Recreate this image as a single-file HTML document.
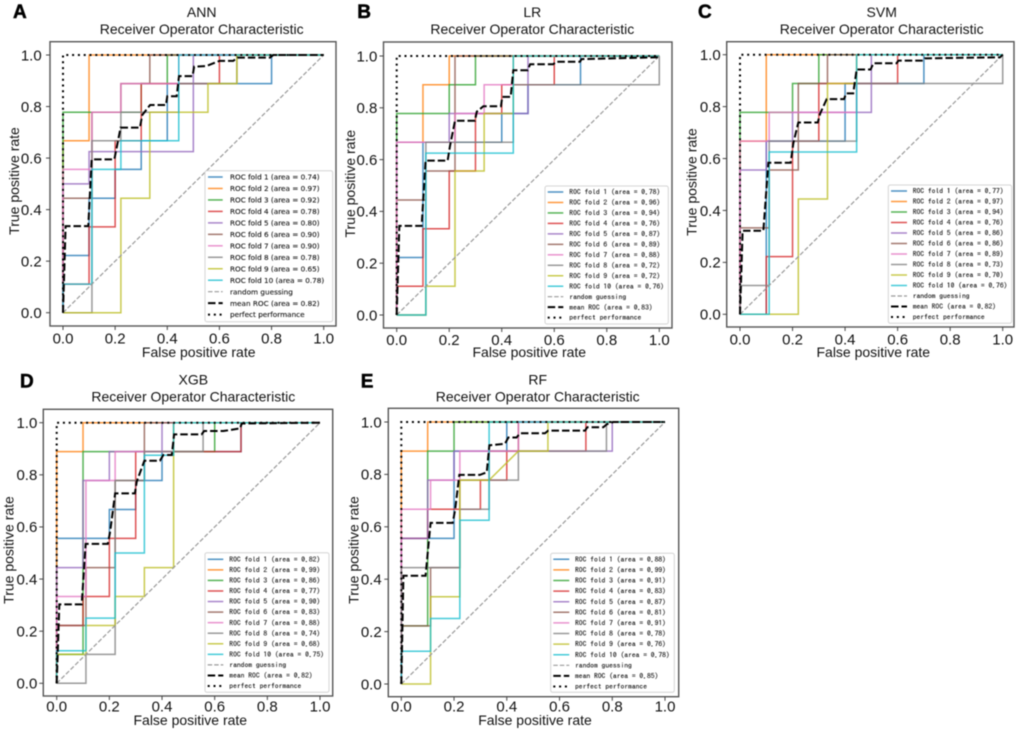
<!DOCTYPE html>
<html lang="en">
<head>
<meta charset="utf-8">
<title>ROC curves for five classifiers</title>
<style>
html,body{margin:0;padding:0;background:#fff;width:1020px;height:732px;overflow:hidden}
svg{display:block;filter:blur(0.4px)}
text{fill:#111}
.sans{font-family:"Liberation Sans",Arial,sans-serif}
.panel-letter{font-family:"Liberation Sans",Arial,sans-serif;font-weight:bold;font-size:19px;fill:#000;stroke:#000;stroke-width:.5px}
</style>
</head>
<body>
<svg id="figure" xmlns="http://www.w3.org/2000/svg" width="1020" height="732" viewBox="0 0 1020 732"></svg>
<script>
const tickValues = [0, 0.2, 0.4, 0.6, 0.8, 1.0];
const tickLabels = ["0.0", "0.2", "0.4", "0.6", "0.8", "1.0"];
const foldColors = ["#1f77b4", "#ff7f0e", "#2ca02c", "#d62728", "#9467bd", "#8c564b", "#e377c2", "#7f7f7f", "#bcbd22", "#17becf"];

/* ANN */
const annAuc = [0.74, 0.97, 0.92, 0.78, 0.80, 0.90, 0.90, 0.78, 0.65, 0.78];
const annMeanAuc = 0.82;
const annFpr = [
  [0, 0, .1, .1, .2, .2, .3, .3, .4, .4, .8, .8, 1],
  [0, 0, .1, .1, 1],
  [0, 0, .3, .3, .4, .4, 1],
  [0, 0, .1, .1, .2, .2, .3, .3, .6, .6, 1],
  [0, 0, .1, .1, .5, .5, 1],
  [0, 0, .111, .111, .222, .222, .333, .333, 1],
  [0, 0, .111, .111, .222, .222, .444, .444, 1],
  [0, .111, .111, .222, .222, .444, .444, .667, .667, 1],
  [0, .222, .222, .333, .333, .556, .556, .667, .667, 1],
  [0, 0, .111, .111, .222, .222, .444, .444, 1]
];
const annTpr = [
  [0, .222, .222, .444, .444, .556, .556, .667, .667, .889, .889, 1, 1],
  [0, .667, .667, 1, 1],
  [0, .778, .778, .889, .889, 1, 1],
  [0, .111, .111, .333, .333, .667, .667, .889, .889, 1, 1],
  [0, .5, .5, .625, .625, 1, 1],
  [0, .444, .444, .778, .778, .889, .889, 1, 1],
  [0, .556, .556, .778, .778, .889, .889, 1, 1],
  [0, 0, .667, .667, .778, .778, .889, .889, 1, 1],
  [0, 0, .444, .444, .778, .778, .889, .889, 1, 1],
  [0, .111, .111, .556, .556, .667, .667, 1, 1]
];
const annMeanFpr = [0, .01, .097, .11, .197, .221, .295, .304, .334, .395, .40, .436, .445, .497, .503, .55, .6, .653, .669, .794, .807, 1];
const annMeanTpr = [0, .336, .336, .595, .595, .718, .718, .767, .806, .806, .84, .84, .918, .918, .955, .957, .977, .977, .99, .99, 1, 1];

/* LR */
const lrAuc = [0.78, 0.96, 0.94, 0.76, 0.87, 0.89, 0.88, 0.72, 0.72, 0.76];
const lrMeanAuc = 0.83;
const lrFpr = [
  [0, 0, .1, .1, .4, .4, .5, .5, .7, .7, 1],
  [0, 0, .1, .1, .2, .2, 1],
  [0, 0, .2, .2, .3, .3, 1],
  [0, 0, .1, .1, .2, .2, .3, .3, .4, .4, .6, .6, 1],
  [0, 0, .2, .2, .5, .5, 1],
  [0, 0, .111, .111, .222, .222, 1],
  [0, 0, .222, .222, .333, .333, .444, .444, 1],
  [0, .111, .111, .444, .444, 1, 1],
  [0, .111, .111, .222, .222, .333, .333, .444, .444, 1],
  [0, .111, .111, .444, .444, 1]
];
const lrTpr = [
  [0, .222, .222, .667, .667, .778, .778, .889, .889, 1, 1],
  [0, .667, .667, .889, .889, 1, 1],
  [0, .778, .778, .889, .889, 1, 1],
  [0, .111, .111, .333, .333, .556, .556, .778, .778, .889, .889, 1, 1],
  [0, .667, .667, .778, .778, 1, 1],
  [0, .444, .444, .556, .556, 1, 1],
  [0, .667, .667, .778, .778, .889, .889, 1, 1],
  [0, 0, .667, .667, .889, .889, 1],
  [0, 0, .111, .111, .556, .556, .778, .778, 1, 1],
  [0, 0, .625, .625, 1, 1]
];
const lrMeanFpr = [0, .01, .095, .11, .194, .203, .222, .298, .305, .33, .397, .402, .434, .444, .499, .508, .596, .607, .698, .704, .996, 1];
const lrMeanTpr = [0, .344, .344, .596, .596, .653, .75, .75, .785, .806, .806, .842, .842, .945, .945, .968, .968, .978, .978, .988, .995, 1];

/* SVM */
const svmAuc = [0.77, 0.97, 0.94, 0.76, 0.86, 0.86, 0.89, 0.73, 0.70, 0.76];
const svmMeanAuc = 0.82;
const svmFpr = [
  [0, .1, .1, .4, .4, .7, .7, 1],
  [0, 0, .1, .1, 1],
  [0, 0, .2, .2, .3, .3, 1],
  [0, .1, .1, .2, .2, .3, .3, .6, .6, 1],
  [0, 0, .1, .1, .2, .2, .5, .5, 1],
  [0, 0, .111, .111, .222, .222, .333, .333, 1],
  [0, 0, .111, .111, .444, .444, 1],
  [0, 0, .111, .111, .444, .444, 1, 1],
  [0, .222, .222, .333, .333, .444, .444, 1],
  [0, .111, .111, .444, .444, 1]
];
const svmTpr = [
  [0, 0, .667, .667, .889, .889, 1, 1],
  [0, .667, .667, 1, 1],
  [0, .778, .778, .889, .889, 1, 1],
  [0, 0, .222, .222, .667, .667, .889, .889, 1, 1],
  [0, .556, .556, .667, .667, .778, .778, 1, 1],
  [0, .333, .333, .556, .556, .889, .889, 1, 1],
  [0, .667, .667, .778, .778, 1, 1],
  [0, .111, .111, .667, .667, .889, .889, 1],
  [0, 0, .444, .444, .889, .889, 1, 1],
  [0, 0, .625, .625, 1, 1]
];
const svmMeanFpr = [0, .01, .089, .108, .193, .203, .222, .296, .305, .33, .396, .404, .431, .444, .497, .508, .596, .603, .698, .704, .99, 1];
const svmMeanTpr = [0, .322, .322, .584, .584, .659, .739, .739, .773, .829, .829, .851, .851, .943, .943, .967, .967, .977, .977, .986, .99, 1];

/* XGB */
const xgbAuc = [0.82, 0.99, 0.86, 0.77, 0.90, 0.83, 0.88, 0.74, 0.68, 0.75];
const xgbMeanAuc = 0.82;
const xgbFpr = [
  [0, 0, .2, .2, .3, .3, .4, .4, .7, .7, 1],
  [0, 0, .1, .1, 1],
  [0, 0, .1, .1, .6, .6, 1],
  [0, 0, .1, .1, .2, .2, .3, .3, .7, .7, 1],
  [0, 0, .1, .1, .2, .2, .4, .4, 1],
  [0, 0, .111, .111, .222, .222, .333, .333, 1],
  [0, 0, .111, .111, .222, .222, .444, .444, 1],
  [0, .111, .111, .222, .222, .333, .333, .556, .556, 1],
  [0, 0, .111, .111, .222, .222, .333, .333, .444, .444, 1],
  [0, 0, .111, .111, .222, .222, .333, .333, .444, .444, 1]
];
const xgbTpr = [
  [0, .556, .556, .667, .667, .778, .778, .889, .889, 1, 1],
  [0, .889, .889, 1, 1],
  [0, .111, .111, .889, .889, 1, 1],
  [0, .222, .222, .333, .333, .556, .556, .889, .889, 1, 1],
  [0, .444, .444, .778, .778, .889, .889, 1, 1],
  [0, .222, .222, .444, .444, .778, .778, 1, 1],
  [0, .333, .333, .778, .778, .889, .889, 1, 1],
  [0, 0, .111, .111, .778, .778, .889, .889, 1, 1],
  [0, .111, .111, .222, .222, .333, .333, .444, .444, 1, 1],
  [0, .125, .125, .25, .25, .5, .5, .875, .875, 1, 1]
];
const xgbMeanFpr = [0, .01, .095, .11, .194, .203, .222, .297, .304, .333, .392, .405, .437, .446, .55, .56, .633, .696, .703, 1];
const xgbMeanTpr = [0, .303, .303, .535, .535, .582, .729, .729, .774, .854, .854, .876, .876, .955, .955, .968, .968, .978, .997, 1];

/* RF */
const rfAuc = [0.88, 0.99, 0.91, 0.83, 0.87, 0.81, 0.91, 0.78, 0.76, 0.78];
const rfMeanAuc = 0.85;
const rfFpr = [
  [0, 0, .2, .2, .4, .4, 1],
  [0, 0, .1, .1, 1],
  [0, 0, .1, .1, .2, .2, 1],
  [0, 0, .1, .1, .3, .3, .4, .4, .7, .7, 1],
  [0, 0, .1, .1, .2, .2, .8, .8, 1],
  [0, 0, .111, .111, .222, .222, .333, .333, .444, .444, 1],
  [0, 0, .111, .111, .222, .222, .444, .444, 1],
  [0, 0, .222, .222, .333, .333, .444, .444, .778, .778, 1],
  [0, .111, .111, .222, .222, .333, .444, .556, .556, 1],
  [0, 0, .111, .111, .222, .222, .333, .333, 1]
];
const rfTpr = [
  [0, .556, .556, .889, .889, 1, 1],
  [0, .889, .889, 1, 1],
  [0, .222, .222, .889, .889, 1, 1],
  [0, .556, .556, .667, .667, .778, .778, .889, .889, 1, 1],
  [0, .556, .556, .778, .778, .889, .889, 1, 1],
  [0, .222, .222, .444, .444, .778, .778, .889, .889, 1, 1],
  [0, .667, .667, .778, .778, .889, .889, 1, 1],
  [0, .444, .444, .667, .667, .778, .778, .889, .889, 1, 1],
  [0, 0, .333, .333, .778, .778, .889, .889, 1, 1],
  [0, .125, .125, .25, .25, .625, .625, 1, 1]
];
const rfMeanFpr = [0, .008, .092, .111, .195, .204, .22, .298, .324, .334, .393, .406, .437, .45, .545, .557, .697, .705, .766, .779, .804, 1];
const rfMeanTpr = [0, .413, .413, .615, .615, .664, .798, .798, .808, .911, .917, .941, .941, .957, .957, .967, .967, .98, .98, .991, 1, 1];

/* Layout of each panel (pixel geometry only) */
const panels = [
  {key:"ann", letter:"A", name:"ANN", fpr:annFpr, tpr:annTpr, auc:annAuc, mFpr:annMeanFpr, mTpr:annMeanTpr, mAuc:annMeanAuc,
   frame:[50,41.7,336,326], x0:63, x1:323.7, y0:312.7, y1:55, lx:[13,18], tx:201.7, ty:[17,34], xl:[198.7,357], yl:[19,181], xtb:343.3, ytr:41.7,
   leg:{box:[205,170.7,332.7,321.7], r0:177, dr:11.47, h:[208,222.7], t:230, font:'"DejaVu Sans",sans-serif', size:7.25}},
  {key:"lr", letter:"B", name:"LR", fpr:lrFpr, tpr:lrTpr, auc:lrAuc, mFpr:lrMeanFpr, mTpr:lrMeanTpr, mAuc:lrMeanAuc,
   frame:[383.5,42,672,328], x0:396.7, x1:659.3, y0:315, y1:56, lx:[357.3,18], tx:532.3, ty:[17,34], xl:[529.3,357], yl:[355,183.7], xtb:345, ytr:377.3,
   leg:{box:[545,186,668.3,324], r0:192, dr:10.47, h:[547.7,563.3], t:569.3, font:'"IPAGothic","Liberation Mono",monospace', size:7.58}},
  {key:"svm", letter:"C", name:"SVM", fpr:svmFpr, tpr:svmTpr, auc:svmAuc, mFpr:svmMeanFpr, mTpr:svmMeanTpr, mAuc:svmMeanAuc,
   frame:[726.7,41.7,1014,327], x0:740, x1:1002.7, y0:314.3, y1:54.7, lx:[698,18], tx:881.7, ty:[17,34], xl:[873.3,357], yl:[696.7,182], xtb:344.3, ytr:720.7,
   leg:{box:[888.3,185,1011.7,323.3], r0:191, dr:10.5, h:[891,907], t:912.7, font:'"IPAGothic","Liberation Mono",monospace', size:7.58}},
  {key:"xgb", letter:"D", name:"XGB", fpr:xgbFpr, tpr:xgbTpr, auc:xgbAuc, mFpr:xgbMeanFpr, mTpr:xgbMeanTpr, mAuc:xgbMeanAuc,
   frame:[43.3,409.3,332.7,696], x0:56.7, x1:320, y0:683.3, y1:422.7, lx:[20,387.7], tx:193.3, ty:[384.3,401.7], xl:[190.3,725], yl:[13.3,550], xtb:711.7, ytr:37.3,
   leg:{box:[205,552.7,329,692.3], r0:559.3, dr:10.56, h:[207.7,223.3], t:229.3, font:'"IPAGothic","Liberation Mono",monospace', size:7.58}},
  {key:"rf", letter:"E", name:"RF", fpr:rfFpr, tpr:rfTpr, auc:rfAuc, mFpr:rfMeanFpr, mTpr:rfMeanTpr, mAuc:rfMeanAuc,
   frame:[388.3,408.3,678.7,696.7], x0:401.3, x1:665, y0:684, y1:422, lx:[360.7,387.7], tx:537.7, ty:[384.3,401.7], xl:[535,725], yl:[358.3,550], xtb:711.7, ytr:381.7,
   leg:{box:[550.7,553.3,674.3,692.3], r0:559.3, dr:10.6, h:[553.3,569.3], t:575, font:'"IPAGothic","Liberation Mono",monospace', size:7.58}}
];

const NS = "http://www.w3.org/2000/svg";
const figure = document.getElementById("figure");

function make(tag, attrs, parent, text) {
  const el = document.createElementNS(NS, tag);
  for (const k in attrs) el.setAttribute(k, attrs[k]);
  if (text !== undefined) el.textContent = text;
  parent.appendChild(el);
  return el;
}

function pathFrom(xs, ys, sx, sy) {
  return xs.map((v, i) => (i ? "L" : "M") + sx(v).toFixed(2) + " " + sy(ys[i]).toFixed(2)).join("");
}

function drawPanel(p) {
  const sx = v => p.x0 + (p.x1 - p.x0) * v;
  const sy = v => p.y0 + (p.y1 - p.y0) * v;

  const g = make("g", {}, figure);
  
  

  const letter = make("text", {x:p.lx[0], y:p.lx[1], class:"panel-letter"}, g, p.letter);
  
  

  const title1 = make("text", {x:p.tx, y:p.ty[0], "text-anchor":"middle", "font-size":14, class:"sans"}, g, p.name);
  
  
  const title2 = make("text", {x:p.tx, y:p.ty[1], "text-anchor":"middle", "font-size":14, class:"sans"}, g, "Receiver Operator Characteristic");
  
  

  const f = p.frame;
  const frame = make("rect", {x:f[0], y:f[1], width:f[2]-f[0], height:f[3]-f[1], fill:"#fff", stroke:"#555", "stroke-width":1.4}, g);
  
  

  tickValues.forEach((v, i) => {
    const xt = make("line", {x1:sx(v), x2:sx(v), y1:f[3], y2:f[3]+4, stroke:"#444", "stroke-width":1}, g);
    
    
    const yt = make("line", {x1:f[0]-4, x2:f[0], y1:sy(v), y2:sy(v), stroke:"#444", "stroke-width":1}, g);
    
    
    const xl = make("text", {x:sx(v), y:p.xtb, "text-anchor":"middle", "font-size":15, class:"sans"}, g, tickLabels[i]);
    
    
    const yl = make("text", {x:p.ytr, y:sy(v)+5.3, "text-anchor":"end", "font-size":15, class:"sans"}, g, tickLabels[i]);
    
    
  });

  const xTitle = make("text", {x:p.xl[0], y:p.xl[1], "text-anchor":"middle", "font-size":14, class:"sans"}, g, "False positive rate");
  
  
  const yTitle = make("text", {x:0, y:0, transform:"translate(" + p.yl[0] + " " + p.yl[1] + ") rotate(-90)", "text-anchor":"middle", "font-size":14, class:"sans"}, g, "True positive rate");
  
  

  p.fpr.forEach((xs, i) => {
    const line = make("path", {d:pathFrom(xs, p.tpr[i], sx, sy), fill:"none", stroke:foldColors[i], "stroke-width":1.5, "stroke-opacity":.8}, g);
    
    
  });

  const guess = make("path", {d:pathFrom([0,1],[0,1],sx,sy), fill:"none", stroke:"#999", "stroke-width":1.2, "stroke-dasharray":"4.5 2"}, g);
  
  
  const mean = make("path", {d:pathFrom(p.mFpr, p.mTpr, sx, sy), fill:"none", stroke:"#000", "stroke-width":2, "stroke-dasharray":"7.5 3"}, g);
  
  
  const perfect = make("path", {d:pathFrom([0,0,1],[0,1,1],sx,sy), fill:"none", stroke:"#000", "stroke-width":2, "stroke-dasharray":"2 3.8"}, g);
  
  

  const L = p.leg;
  const lg = make("g", {}, g);
  
  
  make("rect", {x:L.box[0], y:L.box[1], width:L.box[2]-L.box[0], height:L.box[3]-L.box[1], rx:2, fill:"#fff", "fill-opacity":.9, stroke:"#d4d4d4", "stroke-width":1}, lg);

  const labels = p.auc.map((a, i) => "ROC fold " + (i + 1) + " (area = " + a.toFixed(2) + ")");
  labels.push("random guessing", "mean ROC (area = " + p.mAuc.toFixed(2) + ")", "perfect performance");
  labels.forEach((label, i) => {
    const y = L.r0 + L.dr * i;
    const attrs = {x1:L.h[0], x2:L.h[1], y1:y, y2:y, fill:"none"};
    if (i < 10) { attrs.stroke = foldColors[i]; attrs["stroke-width"] = 1.5; attrs["stroke-opacity"] = .8; }
    if (i === 10) { attrs.stroke = "#999"; attrs["stroke-width"] = 1.2; attrs["stroke-dasharray"] = "4.5 2"; }
    if (i === 11) { attrs.stroke = "#000"; attrs["stroke-width"] = 2; attrs["stroke-dasharray"] = "7.5 3"; }
    if (i === 12) { attrs.stroke = "#000"; attrs["stroke-width"] = 2; attrs["stroke-dasharray"] = "2 3.8"; }
    const handle = make("line", attrs, lg);
    
    
    const text = make("text", {x:L.t, y:y + 2.6, "font-size":L.size, style:"font-family:" + L.font.replace(/"/g, "'") + ";stroke:#222;stroke-width:.12px", fill:"#111"}, lg, label);
    
    
  });
}

panels.forEach(drawPanel);
</script>
</body>
</html>
